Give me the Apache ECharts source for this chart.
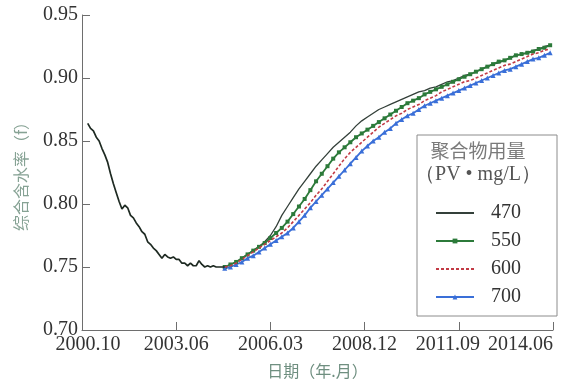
<!DOCTYPE html>
<html>
<head>
<meta charset="utf-8">
<script src="https://cdn.jsdelivr.net/npm/echarts@6/dist/echarts.min.js"></script>
<style>html,body{margin:0;padding:0;background:#fff;}#c{width:563px;height:384px;}</style>
</head>
<body>
<div id="c"></div>
<script>
// x values are months counted from 2000.10
var xTickLabels = ['2000.10', '2003.06', '2006.03', '2008.12', '2011.09', '2014.06'];
var seriesNames = ['470', '550', '600', '700'];

// historical (pre-polymer) water cut, monthly
var historyMonths = [2,3,4,5,6,7,8,9,10,11,12,13,14,15,16,17,18,19,20,21,22,23,24,25,26,27,28,29,30,31,32,33,34,35,36,37,38,39,40,41,42,43,44,45,46,47,48,49,50];
var historyValues = [0.864,0.860,0.858,0.853,0.850,0.844,0.839,0.833,0.824,0.816,0.809,0.802,0.796,0.799,0.797,0.791,0.789,0.785,0.782,0.778,0.776,0.770,0.768,0.765,0.763,0.760,0.757,0.760,0.758,0.757,0.758,0.756,0.756,0.753,0.753,0.751,0.753,0.751,0.751,0.755,0.752,0.750,0.751,0.750,0.751,0.750,0.750,0.750,0.750];

// forecast months for the four polymer doses
var forecastMonths = [50,52,54,56,58,60,62,64,66,68,70,72,74,76,78,80,82,84,86,88,90,92,94,96,98,100,102,104,106,108,110,112,114,116,118,120,122,124,126,128,130,132,134,136,138,140,142,144,146,148,150,152,154,156,158,160,162,164];
var values470 = [0.750,0.752,0.754,0.757,0.760,0.763,0.766,0.770,0.775,0.782,0.791,0.798,0.805,0.812,0.818,0.824,0.830,0.835,0.840,0.845,0.849,0.853,0.857,0.862,0.866,0.869,0.872,0.875,0.877,0.879,0.881,0.883,0.885,0.887,0.889,0.890,0.892,0.893,0.895,0.897,0.898,0.900,0.902,0.903,0.905,0.907,0.909,0.911,0.912,0.914,0.916,0.918,0.919,0.920,0.922,0.923,0.925,0.926];
var values550 = [0.750,0.752,0.754,0.757,0.760,0.763,0.766,0.769,0.773,0.777,0.781,0.786,0.792,0.798,0.804,0.811,0.818,0.824,0.830,0.836,0.841,0.845,0.849,0.853,0.856,0.859,0.862,0.865,0.868,0.871,0.874,0.877,0.880,0.882,0.884,0.887,0.889,0.891,0.893,0.895,0.897,0.899,0.901,0.903,0.905,0.907,0.909,0.911,0.913,0.914,0.916,0.918,0.919,0.920,0.921,0.923,0.924,0.926];
var values600 = [0.750,0.751,0.753,0.756,0.759,0.762,0.765,0.768,0.771,0.774,0.777,0.781,0.786,0.791,0.796,0.801,0.807,0.812,0.818,0.824,0.830,0.836,0.841,0.845,0.849,0.853,0.857,0.861,0.864,0.867,0.870,0.872,0.875,0.877,0.879,0.882,0.884,0.886,0.889,0.891,0.893,0.895,0.897,0.898,0.900,0.902,0.904,0.906,0.908,0.910,0.911,0.913,0.915,0.917,0.919,0.920,0.922,0.923];
var values700 = [0.749,0.750,0.752,0.754,0.757,0.759,0.762,0.765,0.768,0.771,0.774,0.777,0.781,0.786,0.791,0.797,0.802,0.807,0.812,0.817,0.822,0.827,0.832,0.837,0.842,0.846,0.850,0.853,0.857,0.860,0.864,0.867,0.870,0.872,0.875,0.878,0.880,0.882,0.884,0.886,0.888,0.890,0.892,0.894,0.896,0.898,0.900,0.902,0.904,0.906,0.907,0.909,0.911,0.913,0.915,0.916,0.918,0.920];

function pairs(xs, ys) { return xs.map(function (x, i) { return [x, ys[i]]; }); }

var serif = "'Liberation Serif', 'DejaVu Serif', serif";
var cjk = "'Noto Sans CJK SC', sans-serif";
var axisGray = '#6e6e6e';

var chart = echarts.init(document.getElementById('c'), null, { renderer: 'canvas' });
chart.setOption({
  animation: false,
  backgroundColor: '#ffffff',
  grid: { left: 82, right: 10, top: 15, bottom: 54, containLabel: false },
  title: {
    text: '聚合物用量',
    subtext: '（PV • mg/L）',
    left: 478, top: 141, textAlign: 'center', padding: 0, itemGap: 5,
    textStyle: { fontFamily: cjk, fontSize: 19, fontWeight: 'normal', color: '#7a7a7a' },
    subtextStyle: { fontFamily: serif, fontSize: 20, color: '#555555' }
  },
  legend: {
    data: [
      { name: '470', itemStyle: { opacity: 0 } },
      { name: '550' },
      { name: '600', itemStyle: { opacity: 0 } },
      { name: '700' }
    ],
    orient: 'vertical',
    left: 417, top: 135,
    padding: [68, 36, 9, 18],
    itemGap: 8,
    itemWidth: 38,
    itemHeight: 6,
    borderColor: '#8c8c8c', borderWidth: 1,
    textStyle: { fontFamily: serif, fontSize: 20, color: '#333', lineHeight: 18, padding: [0, 0, 0, 12] }
  },
  xAxis: {
    type: 'value', min: 0, max: 165, interval: 33,
    name: '日期（年.月）', nameLocation: 'middle', nameGap: 33,
    nameTextStyle: { fontFamily: cjk, fontSize: 16, color: '#6f8f80' },
    axisLine: { lineStyle: { color: axisGray, width: 1 } },
    axisTick: { inside: true, length: 8, lineStyle: { color: axisGray } },
    splitLine: { show: false },
    axisLabel: {
      fontFamily: serif, fontSize: 20, color: '#333', margin: 5,
      alignMaxLabel: 'right',
      formatter: function (v) {
        var i = Math.round(v / 33);
        if (i === 0) return '{first|' + xTickLabels[i] + '}';
        if (i === 4) return '{shift|' + xTickLabels[i] + '}';
        return xTickLabels[i];
      },
      rich: {
        first: { fontFamily: serif, fontSize: 20, color: '#333', padding: [0, 0, 0, 12] },
        shift: { fontFamily: serif, fontSize: 20, color: '#333', padding: [0, 22, 0, 0] }
      }
    }
  },
  yAxis: {
    type: 'value', min: 0.70, max: 0.95, interval: 0.05,
    name: '综合含水率（f）', nameLocation: 'middle', nameGap: 53, nameRotate: 90,
    nameTextStyle: { fontFamily: cjk, fontSize: 16, color: '#86a294' },
    axisLine: { show: true, lineStyle: { color: axisGray, width: 1 } },
    axisTick: { show: true, inside: true, length: 8, lineStyle: { color: axisGray } },
    splitLine: { show: false },
    axisLabel: {
      fontFamily: serif, fontSize: 20, color: '#333', margin: 4,
      formatter: function (v) { return v.toFixed(2); }
    }
  },
  series: [
    {
      name: 'history', type: 'line', data: pairs(historyMonths, historyValues),
      showSymbol: false, lineStyle: { color: '#1e2a22', width: 1.7 }, z: 5
    },
    {
      name: '470', type: 'line', data: pairs(forecastMonths, values470),
      showSymbol: false, symbol: 'none', itemStyle: { color: '#34403a' },
      lineStyle: { color: '#34403a', width: 1.3 }, z: 2
    },
    {
      name: '550', type: 'line', data: pairs(forecastMonths, values550),
      symbol: 'rect', symbolSize: 4, showAllSymbol: true,
      itemStyle: { color: '#2c7a3a' }, lineStyle: { color: '#2c7a3a', width: 1.8 }, z: 3
    },
    {
      name: '600', type: 'line', data: pairs(forecastMonths, values600),
      showSymbol: false, symbol: 'none', itemStyle: { color: '#c23b45' },
      lineStyle: { color: '#c23b45', width: 1.6, type: [3, 2] }, z: 4
    },
    {
      name: '700', type: 'line', data: pairs(forecastMonths, values700),
      symbol: 'triangle', symbolSize: 5, showAllSymbol: true,
      itemStyle: { color: '#3a6fd8' }, lineStyle: { color: '#3a6fd8', width: 1.8 }, z: 3
    }
  ]
});
</script>
</body>
</html>
